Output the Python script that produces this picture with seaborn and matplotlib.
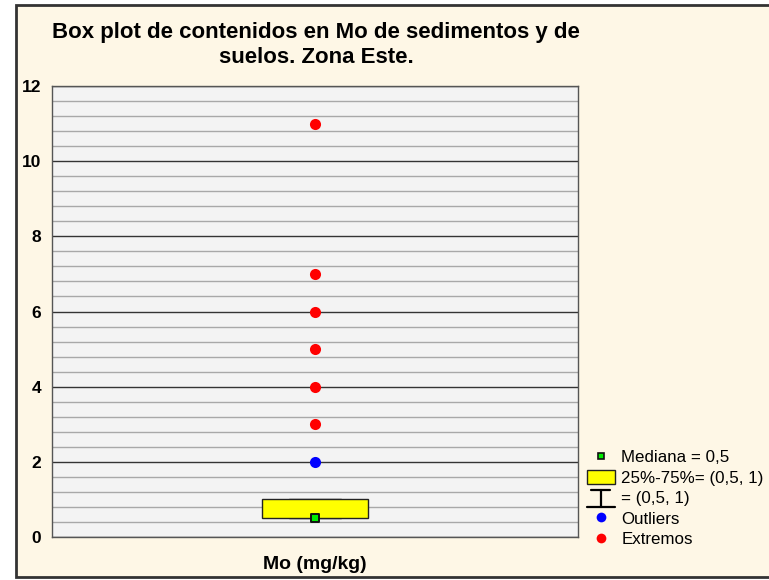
import matplotlib
matplotlib.use("Agg")
import matplotlib.pyplot as plt
import matplotlib.patches as mpatches
from matplotlib.lines import Line2D
from matplotlib.legend_handler import HandlerBase
import numpy as np
import pandas as pd
import seaborn as sns

# ---- data ----
category = "Mo (mg/kg)"
values = [0.5] * 20 + [1.0] * 12 + [2, 3, 4, 5, 6, 7, 11]
outliers = [2]
extremes = [3, 4, 5, 6, 7, 11]
median_value = 0.5
legend_labels = ["Mediana = 0,5", "25%-75%= (0,5, 1)", "= (0,5, 1)", "Outliers", "Extremos"]
title = "Box plot de contenidos en Mo de sedimentos y de\nsuelos. Zona Este."

sns.set_theme(style="white")
plt.rcParams["font.family"] = ["Liberation Sans", "DejaVu Sans"]
plt.rcParams["text.color"] = "black"
plt.rcParams["axes.labelcolor"] = "black"
plt.rcParams["xtick.color"] = "black"
plt.rcParams["ytick.color"] = "black"

df = pd.DataFrame({"cat": [category] * len(values), "val": values})
df_out = pd.DataFrame({"cat": [category] * len(outliers), "val": outliers})
df_ext = pd.DataFrame({"cat": [category] * len(extremes), "val": extremes})
df_med = pd.DataFrame({"cat": [category], "val": [median_value]})

fig = plt.figure(figsize=(7.69, 5.80), dpi=100)
fig.patch.set_facecolor("white")
W, H = 769, 580
panel = mpatches.Rectangle((16 / W, (H - 577) / H), (W + 10 - 16) / W, (577 - 5) / H,
                           transform=fig.transFigure, facecolor="#FEF7E6",
                           edgecolor="#333333", linewidth=2.0, zorder=-10)
fig.patches.append(panel)

ax = fig.add_axes([52 / W, (H - 537) / H, (578 - 52) / W, (537 - 86) / H])
ax.set_facecolor("#F3F3F3")

sns.boxplot(data=df, x="cat", y="val", ax=ax, width=0.2, showfliers=False,
            whis=1.5, color="#FFFF00", linewidth=1.0,
            boxprops=dict(facecolor="#FFFF00", edgecolor="#222222", zorder=3),
            whiskerprops=dict(color="#222222"), capprops=dict(color="#222222"),
            medianprops=dict(color="#FFFF00", linewidth=0))

sns.stripplot(data=df_out, x="cat", y="val", ax=ax, color="#0000FF", size=8,
              jitter=False, zorder=5, linewidth=0)
sns.stripplot(data=df_ext, x="cat", y="val", ax=ax, color="#FF0000", size=8,
              jitter=False, zorder=5, linewidth=0)
sns.stripplot(data=df_med, x="cat", y="val", ax=ax, color="#00EE00", size=6,
              marker="s", jitter=False, zorder=6, linewidth=1.4, edgecolor="#111111")

ax.set_xlim(-0.5, 0.5)
ax.set_ylim(0, 12)
ax.set_yticks(np.arange(0, 13, 2))
ax.set_yticks(np.arange(0, 12.01, 0.4), minor=True)
ax.grid(which="minor", axis="y", color="#A8A8A8", linewidth=1.0, zorder=0)
ax.grid(which="major", axis="y", color="#333333", linewidth=1.0, zorder=0)
ax.set_axisbelow(True)
ax.tick_params(axis="y", which="major", left=True, length=0, labelsize=12.5, pad=8,
               labelcolor="black")
ax.tick_params(axis="y", which="minor", left=False)
ax.tick_params(axis="x", bottom=False, labelbottom=False)
for lab in ax.get_yticklabels():
    lab.set_fontweight("bold")
ax.set_xlabel(category, fontsize=14, fontweight="bold", labelpad=14, color="black")
ax.set_ylabel("")
for s in ax.spines.values():
    s.set_color("#555555")
    s.set_linewidth(1.0)

fig.text(316 / W, 1 - 45 / H, title, ha="center", va="center", fontsize=16,
         fontweight="bold", linespacing=1.25, color="black")


class WhiskerHandler(HandlerBase):
    def create_artists(self, legend, orig_handle, xdescent, ydescent, width, height,
                       fontsize, trans):
        cx = width / 2 - xdescent
        top = height - ydescent
        bot = -ydescent - 2
        l1 = Line2D([cx - width * 0.35, cx + width * 0.35], [top, top], color="black", lw=1.6)
        l2 = Line2D([cx - width * 0.5, cx + width * 0.5], [bot, bot], color="black", lw=1.6)
        l3 = Line2D([cx, cx], [bot, top], color="black", lw=1.6)
        for a in (l1, l2, l3):
            a.set_transform(trans)
        return [l1, l2, l3]


class WhiskerKey:
    pass


handles = [
    Line2D([], [], marker="s", color="none", markerfacecolor="#00EE00",
           markeredgecolor="#111111", markersize=5, markeredgewidth=1.2),
    mpatches.Rectangle((0, 0), 1, 1, facecolor="#FFFF00", edgecolor="#222222", lw=1),
    WhiskerKey(),
    Line2D([], [], marker="o", color="none", markerfacecolor="#0000FF",
           markeredgecolor="none", markersize=7),
    Line2D([], [], marker="o", color="none", markerfacecolor="#FF0000",
           markeredgecolor="none", markersize=7),
]
leg = fig.legend(handles, legend_labels, loc="upper left",
                 bbox_to_anchor=(587 / W, 1 - 449 / H), frameon=False,
                 fontsize=12.2, handlelength=1.63, handleheight=0.95, handletextpad=0.4,
                 labelspacing=0.26, borderpad=0, borderaxespad=0, labelcolor="black",
                 handler_map={WhiskerKey: WhiskerHandler()})

fig.savefig("out.png", dpi=100, facecolor=fig.get_facecolor())
